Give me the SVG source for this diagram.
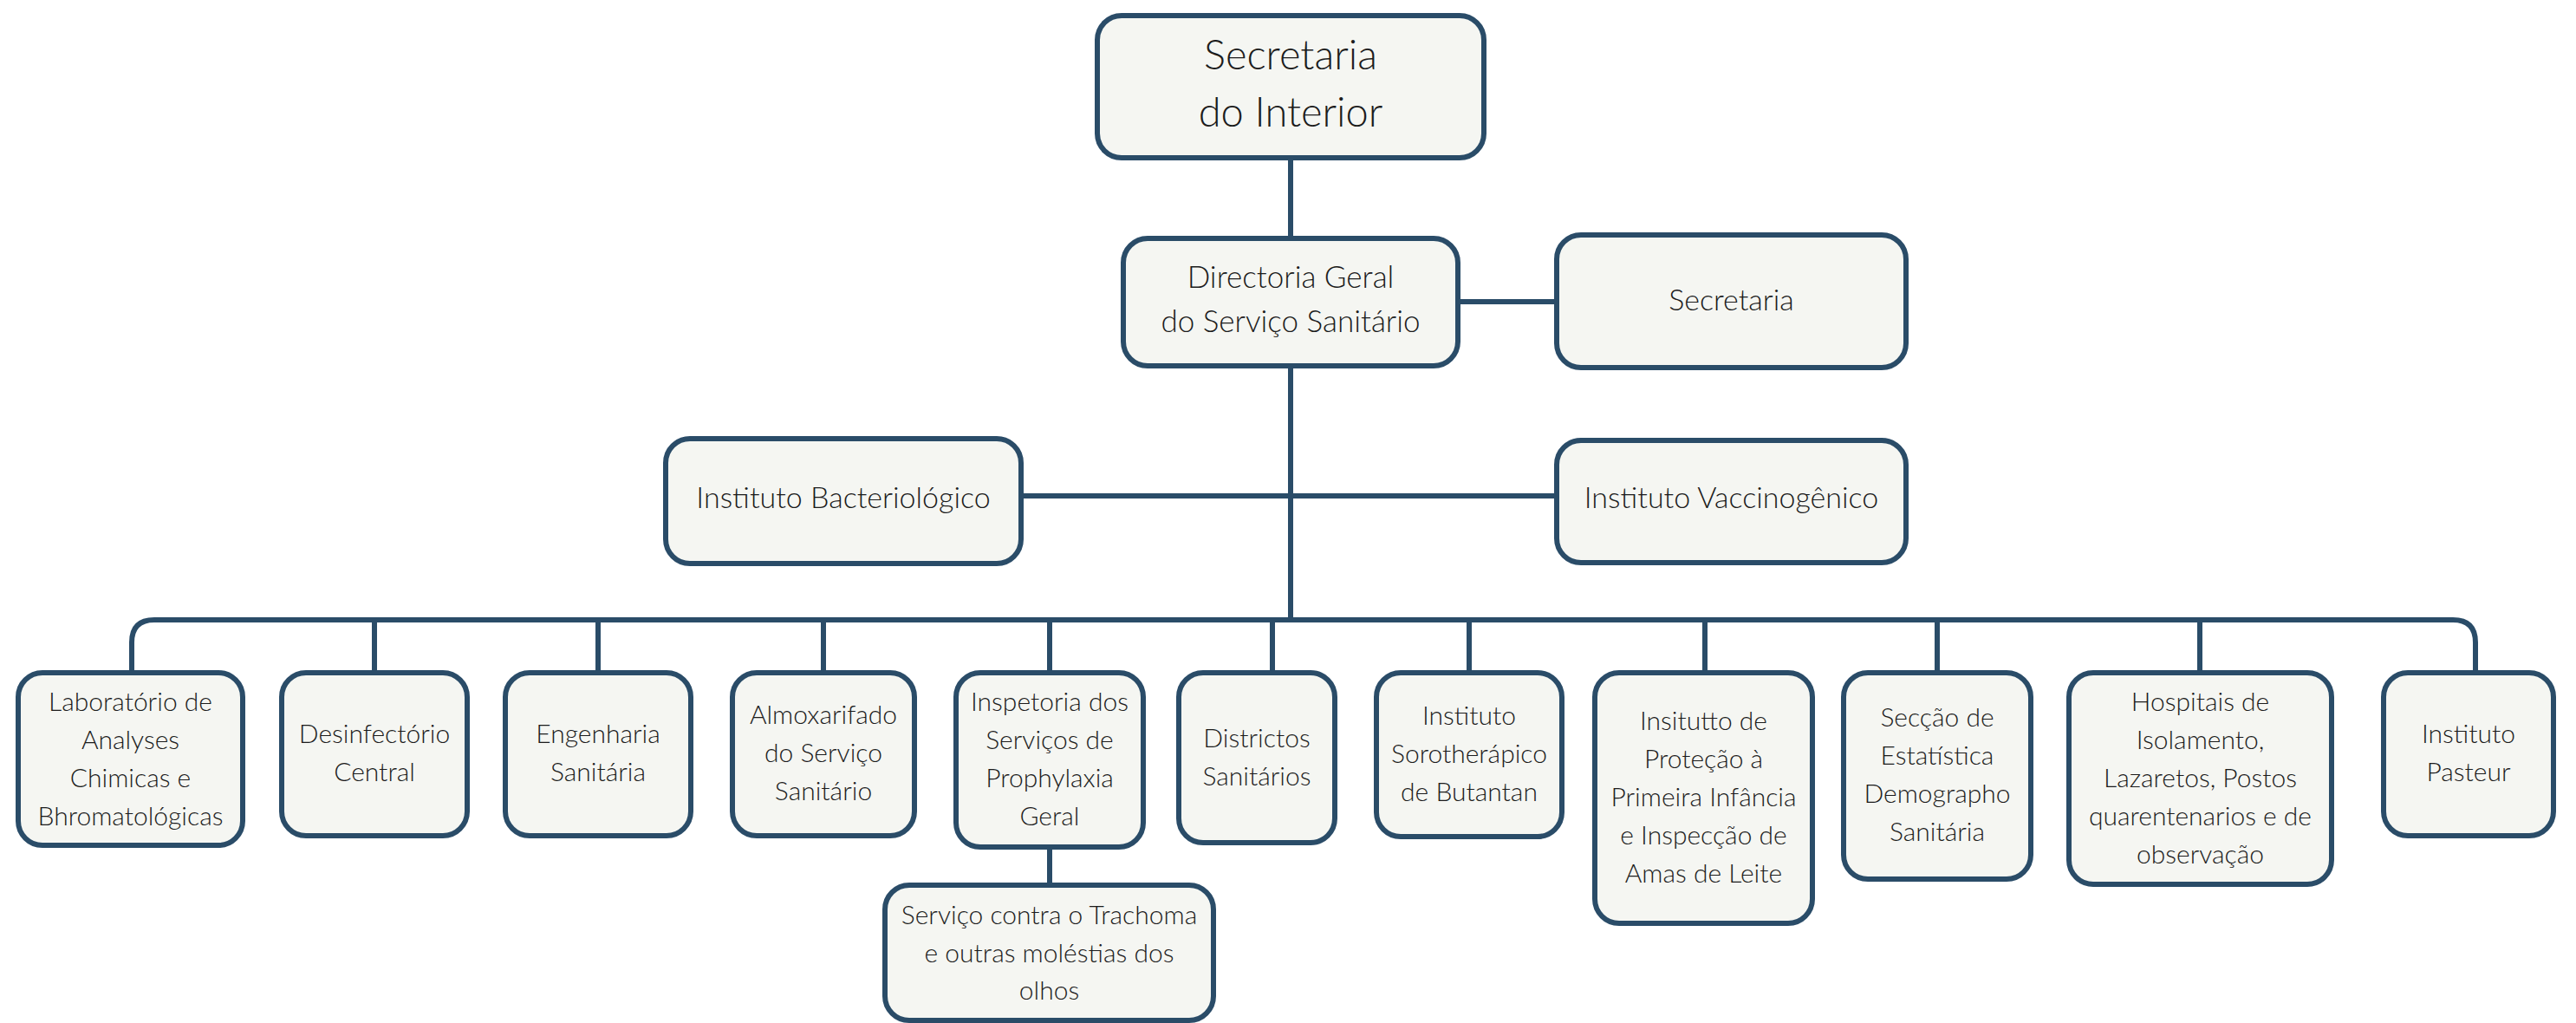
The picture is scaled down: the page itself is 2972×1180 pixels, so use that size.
<svg xmlns="http://www.w3.org/2000/svg" width="2972" height="1180" viewBox="0 0 2972 1180">
<style>
.box{fill:#F5F6F2;stroke:#2A4C68;stroke-width:6}
.ln{fill:none;stroke:#2A4C68;stroke-width:6}
text{font-family:Lato,"Liberation Sans",sans-serif;font-weight:300;fill:#1c1c1c;text-anchor:middle}
.s{font-size:30px}
.m{font-size:34px}
.d{font-size:35px}
.l{font-size:47px}
</style>
<rect width="2972" height="1180" fill="#ffffff"/>
<g id="connectors">
<line class="ln" x1="1489" y1="185" x2="1489" y2="272"/>
<line class="ln" x1="1685" y1="348" x2="1793" y2="348"/>
<line class="ln" x1="1489" y1="425" x2="1489" y2="715"/>
<line class="ln" x1="1181" y1="572" x2="1793" y2="572"/>
<path class="ln" d="M152,773 V741 Q152,715 178,715 H2830 Q2856,715 2856,741 V773"/>
<line class="ln" x1="432" y1="715" x2="432" y2="773"/>
<line class="ln" x1="690" y1="715" x2="690" y2="773"/>
<line class="ln" x1="950" y1="715" x2="950" y2="773"/>
<line class="ln" x1="1211" y1="715" x2="1211" y2="773"/>
<line class="ln" x1="1468" y1="715" x2="1468" y2="773"/>
<line class="ln" x1="1695" y1="715" x2="1695" y2="773"/>
<line class="ln" x1="1967" y1="715" x2="1967" y2="773"/>
<line class="ln" x1="2235" y1="715" x2="2235" y2="773"/>
<line class="ln" x1="2538" y1="715" x2="2538" y2="773"/>
<line class="ln" x1="1211" y1="980" x2="1211" y2="1018"/>
</g>
<g id="n-secretaria-interior"><rect class="box" x="1266" y="18" width="446" height="164" rx="28"/><text class="l" x="1489" y="80">Secretaria</text><text class="l" x="1489" y="146">do Interior</text></g>
<g id="n-directoria"><rect class="box" x="1296" y="275" width="386" height="147" rx="28"/><text class="d" x="1489" y="332">Directoria Geral</text><text class="d" x="1489" y="383">do Serviço Sanitário</text></g>
<g id="n-secretaria"><rect class="box" x="1796" y="271" width="403" height="153" rx="28"/><text class="m" x="1997.5" y="358">Secretaria</text></g>
<g id="n-bacteriologico"><rect class="box" x="768" y="506" width="410" height="144" rx="28"/><text class="m" x="973" y="586">Instituto Bacteriológico</text></g>
<g id="n-vaccinogenico"><rect class="box" x="1796" y="508" width="403" height="141" rx="28"/><text class="m" x="1997.5" y="586">Instituto Vaccinogênico</text></g>
<g id="n-laboratorio"><rect class="box" x="21" y="776" width="259" height="199" rx="28"/><text class="s" x="150.5" y="820">Laboratório de</text><text class="s" x="150.5" y="864">Analyses</text><text class="s" x="150.5" y="908">Chimicas e</text><text class="s" x="150.5" y="952">Bhromatológicas</text></g>
<g id="n-desinfectorio"><rect class="box" x="325" y="776" width="214" height="188" rx="28"/><text class="s" x="432" y="857">Desinfectório</text><text class="s" x="432" y="901">Central</text></g>
<g id="n-engenharia"><rect class="box" x="583" y="776" width="214" height="188" rx="28"/><text class="s" x="690" y="857">Engenharia</text><text class="s" x="690" y="901">Sanitária</text></g>
<g id="n-almoxarifado"><rect class="box" x="845" y="776" width="210" height="188" rx="28"/><text class="s" x="950" y="835">Almoxarifado</text><text class="s" x="950" y="879">do Serviço</text><text class="s" x="950" y="923">Sanitário</text></g>
<g id="n-inspetoria"><rect class="box" x="1103" y="776" width="216" height="201" rx="28"/><text class="s" x="1211" y="820">Inspetoria dos</text><text class="s" x="1211" y="864">Serviços de</text><text class="s" x="1211" y="908">Prophylaxia</text><text class="s" x="1211" y="952">Geral</text></g>
<g id="n-trachoma"><rect class="box" x="1021" y="1021" width="379" height="156" rx="28"/><text class="s" x="1210.5" y="1066">Serviço contra o Trachoma</text><text class="s" x="1210.5" y="1110">e outras moléstias dos</text><text class="s" x="1210.5" y="1153">olhos</text></g>
<g id="n-districtos"><rect class="box" x="1360" y="776" width="180" height="196" rx="28"/><text class="s" x="1450" y="862">Districtos</text><text class="s" x="1450" y="906">Sanitários</text></g>
<g id="n-sorotherapico"><rect class="box" x="1588" y="776" width="214" height="189" rx="28"/><text class="s" x="1695" y="836">Instituto</text><text class="s" x="1695" y="880">Sorotherápico</text><text class="s" x="1695" y="924">de Butantan</text></g>
<g id="n-protecao"><rect class="box" x="1840" y="776" width="251" height="289" rx="28"/><text class="s" x="1965.5" y="842">Insitutto de</text><text class="s" x="1965.5" y="886">Proteção à</text><text class="s" x="1965.5" y="930">Primeira Infância</text><text class="s" x="1965.5" y="974">e Inspecção de</text><text class="s" x="1965.5" y="1018">Amas de Leite</text></g>
<g id="n-seccao"><rect class="box" x="2127" y="776" width="216" height="238" rx="28"/><text class="s" x="2235" y="838">Secção de</text><text class="s" x="2235" y="882">Estatística</text><text class="s" x="2235" y="926">Demographo</text><text class="s" x="2235" y="970">Sanitária</text></g>
<g id="n-hospitais"><rect class="box" x="2387" y="776" width="303" height="244" rx="28"/><text class="s" x="2538.5" y="820">Hospitais de</text><text class="s" x="2538.5" y="864">Isolamento,</text><text class="s" x="2538.5" y="908">Lazaretos, Postos</text><text class="s" x="2538.5" y="952">quarentenarios e de</text><text class="s" x="2538.5" y="996">observação</text></g>
<g id="n-pasteur"><rect class="box" x="2750" y="776" width="196" height="188" rx="28"/><text class="s" x="2848" y="857">Instituto</text><text class="s" x="2848" y="901">Pasteur</text></g>
</svg>
